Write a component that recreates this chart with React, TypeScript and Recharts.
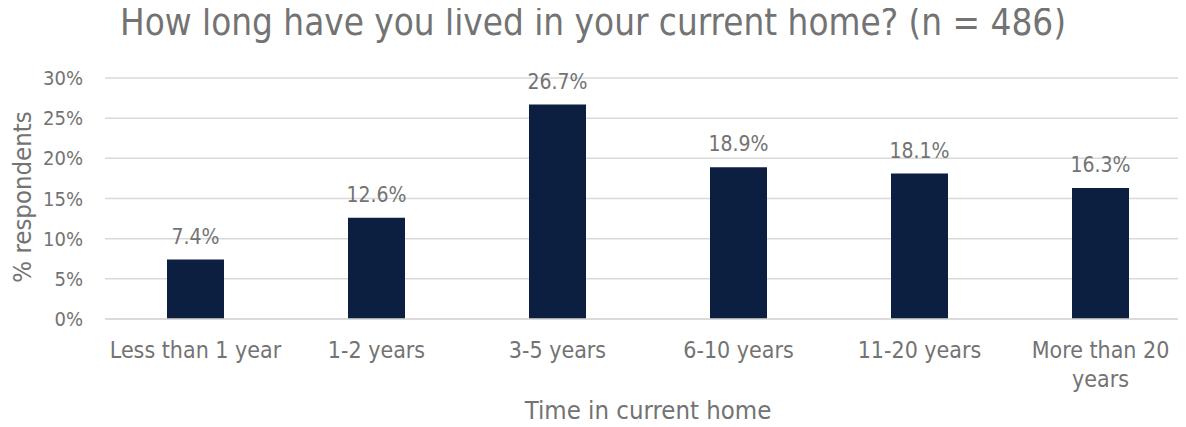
import { BarChart, Bar, XAxis, YAxis, CartesianGrid, LabelList } from 'recharts'

const categories = ['Less than 1 year', '1-2 years', '3-5 years', '6-10 years', '11-20 years', 'More than 20 years']
const tickLines = [['Less than 1 year'], ['1-2 years'], ['3-5 years'], ['6-10 years'], ['11-20 years'], ['More than 20', 'years']]
const percentages = [7.4, 12.6, 26.7, 18.9, 18.1, 16.3]
const yTicks = [0, 5, 10, 15, 20, 25, 30]

const FONT = '"DejaVu Sans Condensed", "DejaVu Sans", sans-serif'
const GREY = '#737373'

const data = categories.map((c, i) => ({ categoria: c, pct: percentages[i] }))

interface TickProps {
  x?: number
  y?: number
  index?: number
}

const CategoryTick = ({ x = 0, y = 0, index = 0 }: TickProps) => {
  const lines = tickLines[index] || []
  return (
    <g>
      {lines.map((l, i) => (
        <text key={i} x={x} y={y + 31 + i * 29} textAnchor="middle" fill={GREY} fontSize={23} fontFamily={FONT}>
          {l}
        </text>
      ))}
    </g>
  )
}

export default function App() {
  return (
    <div style={{ position: 'relative', width: 1186, height: 427, margin: -8, overflow: 'hidden', background: '#fff' }}>
      <div
        style={{
          position: 'absolute',
          top: 0,
          left: 0,
          width: 1186,
          textAlign: 'center',
          fontFamily: FONT,
          fontSize: 36.5,
          lineHeight: '46px',
          color: GREY,
        }}
      >
        How long have you lived in your current home? (n = 486)
      </div>
      <div
        style={{
          position: 'absolute',
          top: 395,
          left: 105,
          width: 1086,
          textAlign: 'center',
          fontFamily: FONT,
          fontSize: 25.5,
          lineHeight: '30px',
          color: GREY,
        }}
      >
        Time in current home
      </div>
      <div
        style={{
          position: 'absolute',
          top: 182,
          left: -93,
          width: 230,
          textAlign: 'center',
          transform: 'rotate(-90deg)',
          fontFamily: FONT,
          fontSize: 25.5,
          lineHeight: '30px',
          color: GREY,
        }}
      >
        % respondents
      </div>
      <BarChart
        width={1192}
        height={427}
        data={data}
        margin={{ top: 78, right: 1, left: 0, bottom: 0 }}
        style={{ position: 'absolute', top: 0, left: 0 }}
      >
        <CartesianGrid vertical={false} stroke="#d9d9d9" strokeWidth={1.5} />
        <XAxis
          dataKey="categoria"
          height={108}
          axisLine={{ stroke: '#d9d9d9', strokeWidth: 1.5 }}
          tickLine={false}
          interval={0}
          tick={<CategoryTick />}
        />
        <YAxis
          width={105}
          domain={[0, 30]}
          ticks={yTicks}
          tickFormatter={(v: number) => `${v}%`}
          axisLine={false}
          tickLine={false}
          tickSize={0}
          tickMargin={22}
          tick={{ fill: GREY, fontSize: 20, fontFamily: FONT }}
        />
        <Bar dataKey="pct" fill="#0c1f40" barSize={57} isAnimationActive={false}>
          <LabelList
            dataKey="pct"
            position="top"
            offset={16}
            formatter={(v: number) => `${v.toFixed(1)}%`}
            fill={GREY}
            fontSize={21}
            fontFamily={FONT}
          />
        </Bar>
      </BarChart>
    </div>
  )
}
